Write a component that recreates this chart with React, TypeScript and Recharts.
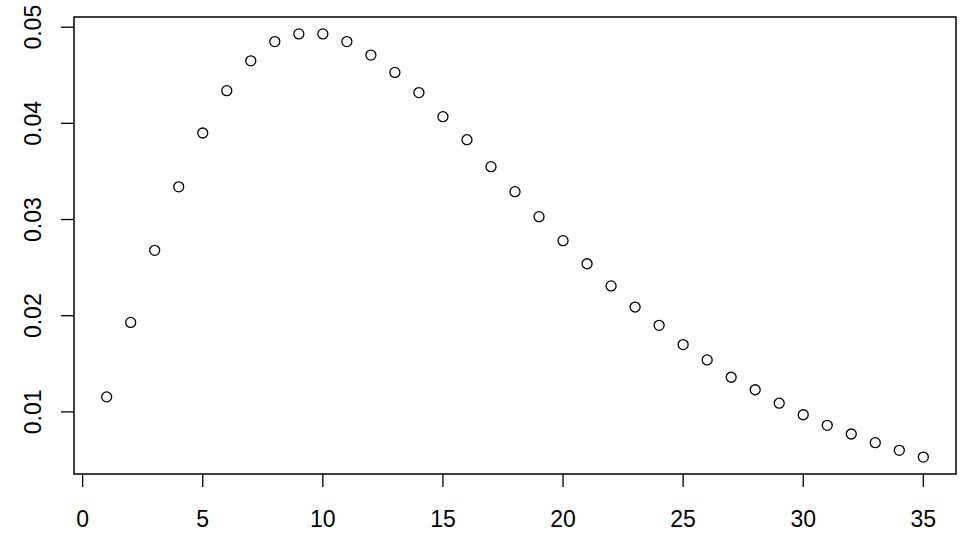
import { ScatterChart, Scatter, XAxis, YAxis, ReferenceArea } from "recharts";

const xValues = [
  1, 2, 3, 4, 5, 6, 7, 8, 9, 10, 11, 12, 13, 14, 15, 16, 17, 18,
  19, 20, 21, 22, 23, 24, 25, 26, 27, 28, 29, 30, 31, 32, 33, 34, 35,
];
const yValues = [
  0.01156, 0.0193, 0.0268, 0.0334, 0.039, 0.0434, 0.0465, 0.0485, 0.0493,
  0.0493, 0.0485, 0.0471, 0.0453, 0.0432, 0.0407, 0.0383, 0.0355, 0.0329,
  0.0303, 0.0278, 0.0254, 0.0231, 0.0209, 0.019, 0.017, 0.0154, 0.0136,
  0.0123, 0.0109, 0.0097, 0.0086, 0.0077, 0.0068, 0.006, 0.0053,
];
const xTicks = [0, 5, 10, 15, 20, 25, 30, 35];
const yTicks = [0.01, 0.02, 0.03, 0.04, 0.05];

const data = xValues.map((x, i) => ({ x, y: yValues[i] }));

// R-style 4% padding around the data range
const xMin = -0.36;
const xMax = 36.36;
const yMin = 0.00354;
const yMax = 0.05106;

const font = "'Liberation Sans', Arial, sans-serif";

const YTick = (props: any) => {
  const { y, payload } = props;
  const x = 41;
  return (
    <text
      x={x}
      y={y}
      transform={`rotate(-90, ${x}, ${y})`}
      textAnchor="middle"
      fontSize={23}
      fontFamily={font}
      fill="#000"
    >
      {payload.value.toFixed(2)}
    </text>
  );
};

const Dot = (props: any) => (
  <circle cx={props.cx} cy={props.cy} r={5} fill="none" stroke="#000" strokeWidth={1.3} />
);

export default function App() {
  return (
    <div style={{ position: "fixed", left: 0, top: 0, background: "#fff" }}>
      <ScatterChart width={974} height={544} margin={{ top: 17, right: 18, left: 0, bottom: 0 }}>
        <XAxis
          type="number"
          dataKey="x"
          domain={[xMin, xMax]}
          ticks={xTicks}
          axisLine={false}
          tickLine={{ stroke: "#000", strokeWidth: 1.3 }}
          tickSize={13}
          tickMargin={24}
          height={70}
          tick={{ fill: "#000", fontSize: 23, fontFamily: font }}
          allowDataOverflow
        />
        <YAxis
          type="number"
          dataKey="y"
          domain={[yMin, yMax]}
          ticks={yTicks}
          axisLine={false}
          tickLine={{ stroke: "#000", strokeWidth: 1.3 }}
          tickSize={13}
          width={74}
          tick={<YTick />}
          allowDataOverflow
        />
        <ReferenceArea
          x1={xMin}
          x2={xMax}
          y1={yMin}
          y2={yMax}
          fill="none"
          stroke="#000"
          strokeWidth={1.5}
          ifOverflow="visible"
        />
        <Scatter data={data} shape={<Dot />} isAnimationActive={false} />
      </ScatterChart>
    </div>
  );
}
